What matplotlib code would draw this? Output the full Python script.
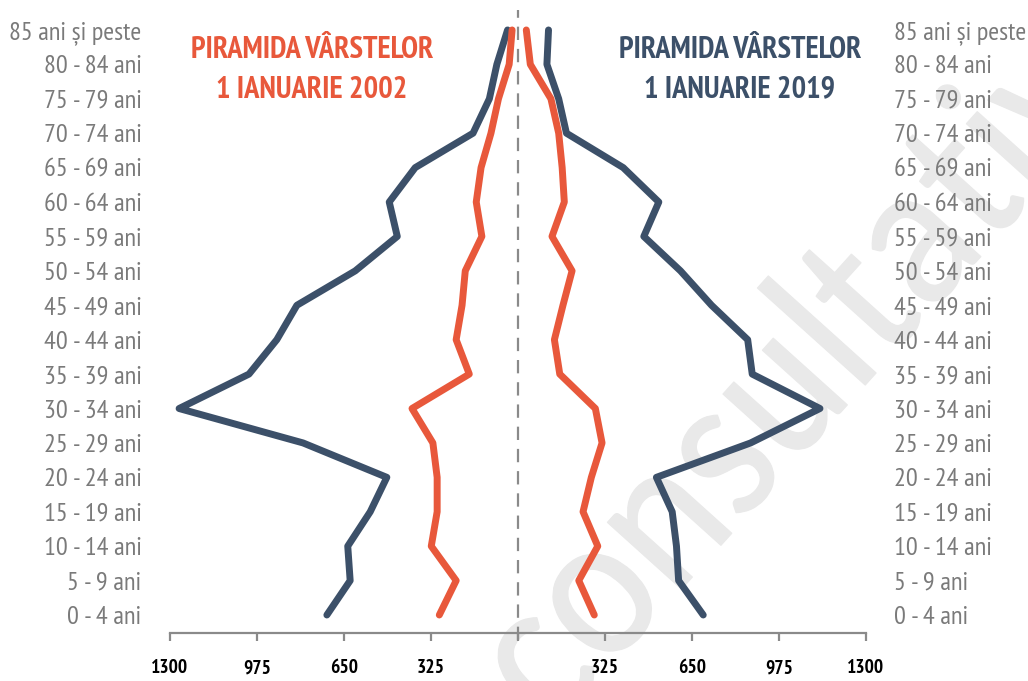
import matplotlib
matplotlib.use("Agg")
import matplotlib.pyplot as plt
from matplotlib import font_manager as fm
from matplotlib.textpath import TextPath
from matplotlib.patches import PathPatch
from matplotlib.transforms import Affine2D

# ---- data ----
age_groups = ["0 - 4 ani", "5 - 9 ani", "10 - 14 ani", "15 - 19 ani", "20 - 24 ani",
              "25 - 29 ani", "30 - 34 ani", "35 - 39 ani", "40 - 44 ani", "45 - 49 ani",
              "50 - 54 ani", "55 - 59 ani", "60 - 64 ani", "65 - 69 ani", "70 - 74 ani",
              "75 - 79 ani", "80 - 84 ani", "85 ani și peste"]
left_2019 = [714, 627, 636, 552, 490, 803, 1266, 1005, 901, 826, 608, 451, 481, 384, 168, 107, 79, 39]
left_2002 = [294, 231, 324, 302, 302, 318, 396, 182, 231, 209, 197, 135, 156, 138, 101, 73, 33, 22]
right_2019 = [692, 600, 592, 576, 517, 869, 1128, 875, 858, 723, 607, 470, 526, 393, 181, 152, 108, 114]
right_2002 = [285, 227, 298, 243, 274, 314, 289, 156, 136, 168, 202, 127, 173, 165, 152, 123, 46, 31]
tick_values = [-1300, -975, -650, -325, 0, 325, 650, 975, 1300]
tick_labels = ["1300", "975", "650", "325", "", "325", "650", "975", "1300"]
title_2002 = "PIRAMIDA VÂRSTELOR\n1 IANUARIE 2002"
title_2019 = "PIRAMIDA VÂRSTELOR\n1 IANUARIE 2019"
watermark = "consultativă"

BLUE = "#3c5069"
ORANGE = "#e8583b"
GRAY = "#8a8a8a"
LABEL = "#7a7a7a"

names = {f.name for f in fm.fontManager.ttflist}
def pick(cands):
    for c in cands:
        if c in names:
            return c
    return "DejaVu Sans"

NARROW = pick(["PT Sans Narrow", "Liberation Sans Narrow", "Roboto Condensed",
               "Archivo Narrow", "Asap Condensed", "Encode Sans Condensed", "DejaVu Sans"])
WM = pick(["Carlito", "PT Sans", "Open Sans"])

W, H = 1028, 681
fig = plt.figure(figsize=(W/100, H/100), dpi=100)
ax = fig.add_axes([170/W, 1-633/H, 696/W, 623/H])
ax.set_zorder(2)
ax.set_xlim(-1300, 1300)
ax.set_ylim(-0.523, 17.58)

ypos = list(range(len(age_groups)))

# watermark: text outline drawn in figure pixels (behind the chart)
tp = TextPath((0, 0), watermark, size=190, prop=fm.FontProperties(family=WM))
wm_tr = Affine2D().scale(1.0, 1.1).rotate_deg(48).translate(552, -52)
wm_patch = PathPatch(wm_tr.transform_path(tp), facecolor="#e9e9e9", edgecolor="#e9e9e9",
                     lw=0.8, transform=Affine2D(), zorder=0)
fig.add_artist(wm_patch)

kw = dict(lw=5, solid_capstyle="round", solid_joinstyle="round", zorder=3)
ax.plot([-v for v in left_2019], ypos, color=BLUE, **kw)
ax.plot([-v for v in left_2002], ypos, color=ORANGE, **kw)
ax.plot(right_2019, ypos, color=BLUE, **kw)
ax.plot(right_2002, ypos, color=ORANGE, **kw)

ax.axvline(0, ymin=-0.012, ymax=1, color=GRAY, lw=1.6, dashes=(6, 4), clip_on=False, zorder=2)

for s in ["left", "right", "top"]:
    ax.spines[s].set_visible(False)
ax.spines["bottom"].set_color(GRAY)
ax.spines["bottom"].set_linewidth(1.6)
ax.patch.set_alpha(0)

ax.set_xticks(tick_values)
ax.set_xticklabels(tick_labels, fontsize=14, fontweight="bold", family=NARROW, color="black")
ax.tick_params(axis="x", direction="out", length=6, width=1.6, color=GRAY, pad=13)

ax.set_yticks(ypos)
ax.set_yticklabels(age_groups, fontsize=19, family=NARROW, color=LABEL)
ax.tick_params(axis="y", left=False, right=False, labelleft=True, labelright=True, pad=17)

fig.text(312/W, 1-70/H, title_2002, ha="center", va="center", multialignment="center",
         fontsize=22, fontweight="bold", family=NARROW, color=ORANGE, linespacing=1.5)
fig.text(740/W, 1-70/H, title_2019, ha="center", va="center", multialignment="center",
         fontsize=22, fontweight="bold", family=NARROW, color=BLUE, linespacing=1.5)

fig.savefig("out.png", dpi=100)
